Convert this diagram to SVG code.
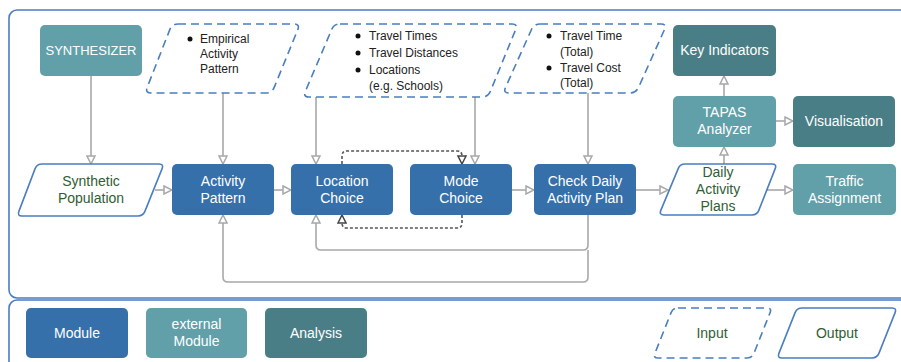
<svg xmlns="http://www.w3.org/2000/svg" width="901" height="362" viewBox="0 0 901 362">
<style>
text{font-family:"Liberation Sans",Arial,sans-serif;}
.mod{fill:#3670aa;}
.ext{fill:#62a0a9;}
.ana{fill:#4a7e86;}
.wt{fill:#ffffff;font-size:14px;text-anchor:middle;}
.gt{fill:#2f5d34;font-size:14px;text-anchor:middle;}
.bt{fill:#222;font-size:12px;}
.in{fill:#fff;stroke:#4a7ec0;stroke-width:1.6;stroke-dasharray:8,5;}
.out{fill:#fff;stroke:#4a7ec0;stroke-width:1.6;}
.frame{fill:none;stroke:#4a7ec0;stroke-width:1.6;}
.c{fill:none;stroke:#a8a8a8;stroke-width:1.6;marker-end:url(#ah);}
.d{fill:none;stroke:#555;stroke-width:1.6;stroke-dasharray:3,2;marker-end:url(#ahd);}
</style>
<defs>
<marker id="ah" markerUnits="userSpaceOnUse" markerWidth="10" markerHeight="10" refX="9" refY="5" orient="auto" viewBox="0 0 10 10">
<path d="M1,1 L9,5 L1,9 Z" fill="#fff" stroke="#a8a8a8" stroke-width="1.5"/>
</marker>
<marker id="ahd" markerUnits="userSpaceOnUse" markerWidth="10" markerHeight="10" refX="9" refY="5" orient="auto" viewBox="0 0 10 10">
<path d="M1,1 L9,5 L1,9 Z" fill="#fff" stroke="#444" stroke-width="1.5"/>
</marker>
</defs>
<rect width="901" height="362" fill="#fff"/>
<rect class="frame" x="9" y="10" width="905" height="288" rx="8"/>
<rect class="frame" x="9" y="300" width="905" height="80" rx="8"/>

<g id="connectors">
<path class="c" d="M91,76 V164"/>
<path class="c" d="M223,93 V164"/>
<path class="c" d="M316,97 V164"/>
<path class="c" d="M475,97 V164"/>
<path class="c" d="M588,93 V164"/>
<path class="c" d="M155,190 H172"/>
<path class="c" d="M274,190 H291"/>
<path class="c" d="M512,190 H534"/>
<path class="c" d="M636,190 H668"/>
<path class="c" d="M767,190 H793"/>
<path class="c" d="M724,164 V147"/>
<path class="c" d="M724,96 V76"/>
<path class="c" d="M776,121 H793"/>
<path class="c" d="M588,215 V245 Q588,250 583,250 H321 Q316,250 316,245 V215"/>
<path class="c" d="M588,250 V277 Q588,282 583,282 H228 Q223,282 223,277 V215"/>
<path class="d" d="M342,164 V156 Q342,151 347,151 H457 Q462,151 462,156 V164"/>
<path class="d" d="M462,215 V223 Q462,228 457,228 H347 Q342,228 342,223 V215"/>
</g>

<g id="synthesizer">
<rect class="ext" x="40" y="25" width="102" height="51" rx="5"/>
<text class="wt" x="91" y="55" style="font-size:13px">SYNTHESIZER</text>
</g>
<g id="empirical">
<path class="in" d="M178,24 H294 Q300,24 297.8,29.6 L274.2,87.4 Q272,93 266,93 H151 Q145,93 147.2,87.4 L169.8,29.6 Q172,24 178,24 Z"/>
<circle cx="190" cy="39" r="2.5" fill="#111"/>
<text class="bt" x="200" y="43">Empirical</text>
<text class="bt" x="200" y="58">Activity</text>
<text class="bt" x="200" y="73">Pattern</text>
</g>
<g id="travel">
<path class="in" d="M340,24 H512 Q518,24 515.7,29.5 L490.3,91.5 Q488,97 482,97 H309 Q303,97 305.3,91.5 L331.7,29.5 Q334,24 340,24 Z"/>
<circle cx="358" cy="36" r="2.5" fill="#111"/>
<circle cx="358" cy="53" r="2.5" fill="#111"/>
<circle cx="358" cy="70" r="2.5" fill="#111"/>
<text class="bt" x="369" y="40">Travel Times</text>
<text class="bt" x="369" y="57">Travel Distances</text>
<text class="bt" x="369" y="74">Locations</text>
<text class="bt" x="369" y="90">(e.g. Schools)</text>
</g>
<g id="totals">
<path class="in" d="M540,24 H661 Q667,24 664.5,29.5 L638.5,87.5 Q636,93 630,93 H509 Q503,93 505.5,87.5 L531.5,29.5 Q534,24 540,24 Z"/>
<circle cx="549" cy="36" r="2.5" fill="#111"/>
<circle cx="549" cy="68" r="2.5" fill="#111"/>
<text class="bt" x="560" y="40">Travel Time</text>
<text class="bt" x="560" y="56">(Total)</text>
<text class="bt" x="560" y="72">Travel Cost</text>
<text class="bt" x="560" y="87">(Total)</text>
</g>
<g id="key-indicators">
<rect class="ana" x="673" y="25" width="103" height="51" rx="5"/>
<text class="wt" x="724.5" y="55">Key Indicators</text>
</g>
<g id="tapas-analyzer">
<rect class="ext" x="673" y="96" width="103" height="51" rx="5"/>
<text class="wt" x="724.5" y="117">TAPAS</text>
<text class="wt" x="724.5" y="134">Analyzer</text>
</g>
<g id="visualisation">
<rect class="ana" x="793" y="96" width="102" height="51" rx="5"/>
<text class="wt" x="844" y="126">Visualisation</text>
</g>
<g id="synthetic-population">
<path class="out" d="M42,164 H159 Q164,164 162.1,168.6 L144.9,211.4 Q143,216 138,216 H22 Q17,216 18.9,211.4 L35.1,168.6 Q37,164 42,164 Z"/>
<text class="gt" x="91" y="186">Synthetic</text>
<text class="gt" x="91" y="203">Population</text>
</g>
<g id="activity-pattern">
<rect class="mod" x="172" y="164" width="102" height="51" rx="5"/>
<text class="wt" x="223" y="186">Activity</text>
<text class="wt" x="223" y="203">Pattern</text>
</g>
<g id="location-choice">
<rect class="mod" x="291" y="164" width="102" height="51" rx="5"/>
<text class="wt" x="342" y="186">Location</text>
<text class="wt" x="342" y="203">Choice</text>
</g>
<g id="mode-choice">
<rect class="mod" x="410" y="164" width="102" height="51" rx="5"/>
<text class="wt" x="461" y="186">Mode</text>
<text class="wt" x="461" y="203">Choice</text>
</g>
<g id="check-plan">
<rect class="mod" x="534" y="164" width="102" height="51" rx="5"/>
<text class="wt" x="585" y="186">Check Daily</text>
<text class="wt" x="585" y="203">Activity Plan</text>
</g>
<g id="daily-activity-plans">
<path class="out" d="M685,164 H772 Q777,164 775.2,168.6 L758.8,210.4 Q757,215 752,215 H664 Q659,215 660.8,210.4 L678.2,168.6 Q680,164 685,164 Z"/>
<text class="gt" x="718" y="177">Daily</text>
<text class="gt" x="718" y="194">Activity</text>
<text class="gt" x="718" y="211">Plans</text>
</g>
<g id="traffic-assignment">
<rect class="ext" x="793" y="164" width="103" height="51" rx="5"/>
<text class="wt" x="844.5" y="186">Traffic</text>
<text class="wt" x="844.5" y="203">Assignment</text>
</g>

<g id="legend-module">
<rect class="mod" x="26" y="308" width="102" height="50" rx="5"/>
<text class="wt" x="77" y="338">Module</text>
</g>
<g id="legend-external">
<rect class="ext" x="146" y="308" width="101" height="50" rx="5"/>
<text class="wt" x="196.5" y="329">external</text>
<text class="wt" x="196.5" y="346">Module</text>
</g>
<g id="legend-analysis">
<rect class="ana" x="265" y="308" width="102" height="50" rx="5"/>
<text class="wt" x="316" y="338">Analysis</text>
</g>
<g id="legend-input">
<path class="in" d="M678,308 H767 Q772,308 770.1,312.6 L753.9,353.4 Q752,358 747,358 H658 Q653,358 654.9,353.4 L671.1,312.6 Q673,308 678,308 Z"/>
<text class="gt" x="712" y="338">Input</text>
</g>
<g id="legend-output">
<path class="out" d="M802,308 H892 Q897,308 895.1,312.6 L878.9,353.4 Q877,358 872,358 H782 Q777,358 778.9,353.4 L795.1,312.6 Q797,308 802,308 Z"/>
<text class="gt" x="837" y="338">Output</text>
</g>
</svg>
